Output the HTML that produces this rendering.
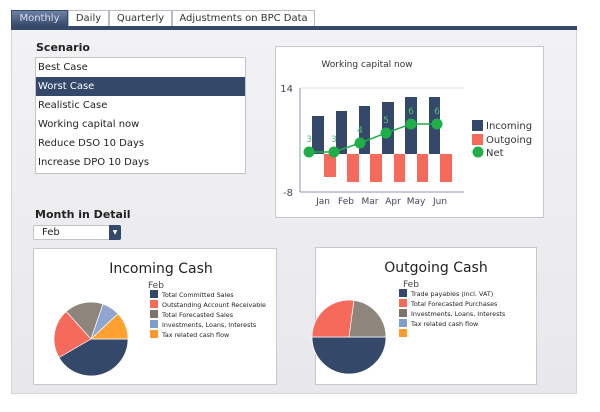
<!DOCTYPE html>
<html><head><meta charset="utf-8"><style>
*{margin:0;padding:0;box-sizing:border-box}
body{width:600px;height:412px;background:#fff;font-family:"DejaVu Sans","Liberation Sans",sans-serif;position:relative;overflow:hidden;color:#222}
.a{position:absolute}
.tab{position:absolute;top:10px;height:16px;border:1px solid #b8bcc4;border-bottom:none;background:#fff;font-size:10px;line-height:15px;text-align:center;color:#333}
.list div{height:19px;line-height:19px;font-size:10px;padding-left:2px}
.lg{font-size:6.4px;line-height:10px;white-space:nowrap}
.lg i{display:inline-block;width:8px;height:8px;vertical-align:-1px;margin-right:4px}
</style></head><body>
<div class="a" style="left:11px;top:26px;width:566px;height:368px;background:linear-gradient(#f2f2f4,#e8e8ec);border:1px solid #d6d6da"></div>
<div class="a" style="left:11px;top:26px;width:566px;height:4px;background:#36496a"></div>
<div class="tab" style="left:11px;width:57px;background:linear-gradient(#6d82a6,#36496a);color:#dde;border-color:#36496a">Monthly</div>
<div class="tab" style="left:68px;width:41px">Daily</div>
<div class="tab" style="left:109px;width:63px">Quarterly</div>
<div class="tab" style="left:172px;width:143px">Adjustments on BPC Data</div>

<div class="a" style="left:36px;top:41px;font-size:11px;font-weight:bold">Scenario</div>
<div class="a list" style="left:35px;top:57px;width:211px;height:117px;background:#fff;border:1px solid #c4c4c8">
<div>Best Case</div><div style="background:#34486a;color:#fff">Worst Case</div><div>Realistic Case</div><div>Working capital now</div><div>Reduce DSO 10 Days</div><div>Increase DPO 10 Days</div></div>

<div class="a" style="left:35px;top:208px;font-size:11px;font-weight:bold">Month in Detail</div>
<div class="a" style="left:33px;top:225px;width:88px;height:15px;background:#fff;border:1px solid #c4c4c8;border-radius:2px;font-size:10px;line-height:13px;padding-left:8px">Feb</div>
<div class="a" style="left:109px;top:225px;width:12px;height:15px;background:#34486a;color:#fff;font-size:6px;line-height:15px;text-align:center;border-radius:0 2px 2px 0">▼</div>

<div class="a" style="left:275px;top:46px;width:269px;height:172px;background:#fff;border:1px solid #c8c8cc"></div>
<svg class="a" style="left:0;top:0" width="600" height="412">
<text x="367" y="67" font-size="9" text-anchor="middle" fill="#333" font-family="DejaVu Sans">Working capital now</text>
<line x1="300" y1="88" x2="464" y2="88" stroke="#dde"/>
<line x1="300" y1="88" x2="300" y2="192" stroke="#8a94b0"/>
<line x1="300" y1="192" x2="464" y2="192" stroke="#8a94b0"/>
<text x="293" y="92" font-size="10" text-anchor="end" fill="#445" font-family="DejaVu Sans">14</text>
<text x="293" y="196" font-size="10" text-anchor="end" fill="#445" font-family="DejaVu Sans">-8</text>
<g fill="#34486a">
<rect x="312" y="116" width="12" height="38"/><rect x="336" y="111" width="11" height="43"/><rect x="359" y="106" width="11" height="48"/><rect x="382" y="102" width="12" height="52"/><rect x="405" y="97" width="12" height="57"/><rect x="429" y="97" width="11" height="57"/></g>
<g fill="#f56a5a">
<rect x="324" y="154" width="12" height="23"/><rect x="347" y="154" width="12" height="28"/><rect x="370" y="154" width="12" height="28"/><rect x="394" y="154" width="11" height="28"/><rect x="417" y="154" width="11" height="28"/><rect x="440" y="154" width="12" height="28"/></g>
<polyline points="309,152 334,152 360,143 386,133 411,124 437,124" fill="none" stroke="#1fae48" stroke-width="1.5"/>
<g fill="#1fae48"><circle cx="309" cy="152" r="5.5"/><circle cx="334" cy="152" r="5.5"/><circle cx="360" cy="143" r="5.5"/><circle cx="386" cy="133" r="5.5"/><circle cx="411" cy="124" r="5.5"/><circle cx="437" cy="124" r="5.5"/></g>
<g font-size="9" fill="#4cc070" text-anchor="middle" font-family="DejaVu Sans"><text x="309" y="142">3</text><text x="334" y="142">3</text><text x="360" y="133">4</text><text x="386" y="123">5</text><text x="411" y="114">6</text><text x="437" y="114">6</text></g>
<g font-size="9" fill="#445" text-anchor="middle" font-family="DejaVu Sans"><text x="323" y="204">Jan</text><text x="346" y="204">Feb</text><text x="370" y="204">Mar</text><text x="393" y="204">Apr</text><text x="416" y="204">May</text><text x="440" y="204">Jun</text></g>
<rect x="472" y="120" width="11" height="11" fill="#34486a"/><rect x="472" y="134" width="11" height="11" fill="#f56a5a"/><circle cx="478" cy="152" r="5.5" fill="#1fae48"/>
<g font-size="10" fill="#333" font-family="DejaVu Sans"><text x="486" y="129">Incoming</text><text x="486" y="143">Outgoing</text><text x="486" y="156">Net</text></g>
</svg>

<div class="a" style="left:33px;top:248px;width:244px;height:137px;background:#fff;border:1px solid #c8c8cc"></div>
<div class="a" style="left:315px;top:247px;width:222px;height:138px;background:#fff;border:1px solid #c8c8cc"></div>
<svg class="a" style="left:0;top:0" width="600" height="412">
<g font-family="DejaVu Sans" fill="#222"><text x="161" y="273" font-size="14" text-anchor="middle">Incoming Cash</text><text x="436" y="272" font-size="14" text-anchor="middle">Outgoing Cash</text>
<text x="148" y="288" font-size="9" fill="#444">Feb</text><text x="403" y="287" font-size="9" fill="#444">Feb</text></g>
<g stroke="#fff" stroke-width="0.7">
<path d="M91,339 L128,339 A37,37 0 0 1 59,357.5 Z" fill="#34486a"/>
<path d="M91,339 L59,357.5 A37,37 0 0 1 66.2,311.5 Z" fill="#f56a5a"/>
<path d="M91,339 L66.2,311.5 A37,37 0 0 1 103,304 Z" fill="#8e867c"/>
<path d="M91,339 L103,304 A37,37 0 0 1 118,313.8 Z" fill="#8ea6d0"/>
<path d="M91,339 L118,313.8 A37,37 0 0 1 128,339 Z" fill="#ffa030"/>
<path d="M349,337 L386,337 A37,37 0 0 1 312,337 Z" fill="#34486a"/>
<path d="M349,337 L312,337 A37,37 0 0 1 354,300.4 Z" fill="#f56a5a"/>
<path d="M349,337 L354,300.4 A37,37 0 0 1 386,337 Z" fill="#8e867c"/>
</g></svg>
<div class="a lg" style="left:150px;top:290px">
<div><i style="background:#34486a"></i>Total Committed Sales</div><div><i style="background:#f56a5a"></i>Outstanding Account Receivable</div><div><i style="background:#7e7468"></i>Total Forecasted Sales</div><div><i style="background:#7e9ccc"></i>Investments, Loans, Interests</div><div><i style="background:#ff9a2a"></i>Tax related cash flow</div></div>
<div class="a lg" style="left:399px;top:289px">
<div><i style="background:#34486a"></i>Trade payables (incl. VAT)</div><div><i style="background:#f56a5a"></i>Total Forecasted Purchases</div><div><i style="background:#7e7468"></i>Investments, Loans, Interests</div><div><i style="background:#7e9ccc"></i>Tax related cash flow</div><div><i style="background:#ff9a2a"></i></div></div>
</body></html>
